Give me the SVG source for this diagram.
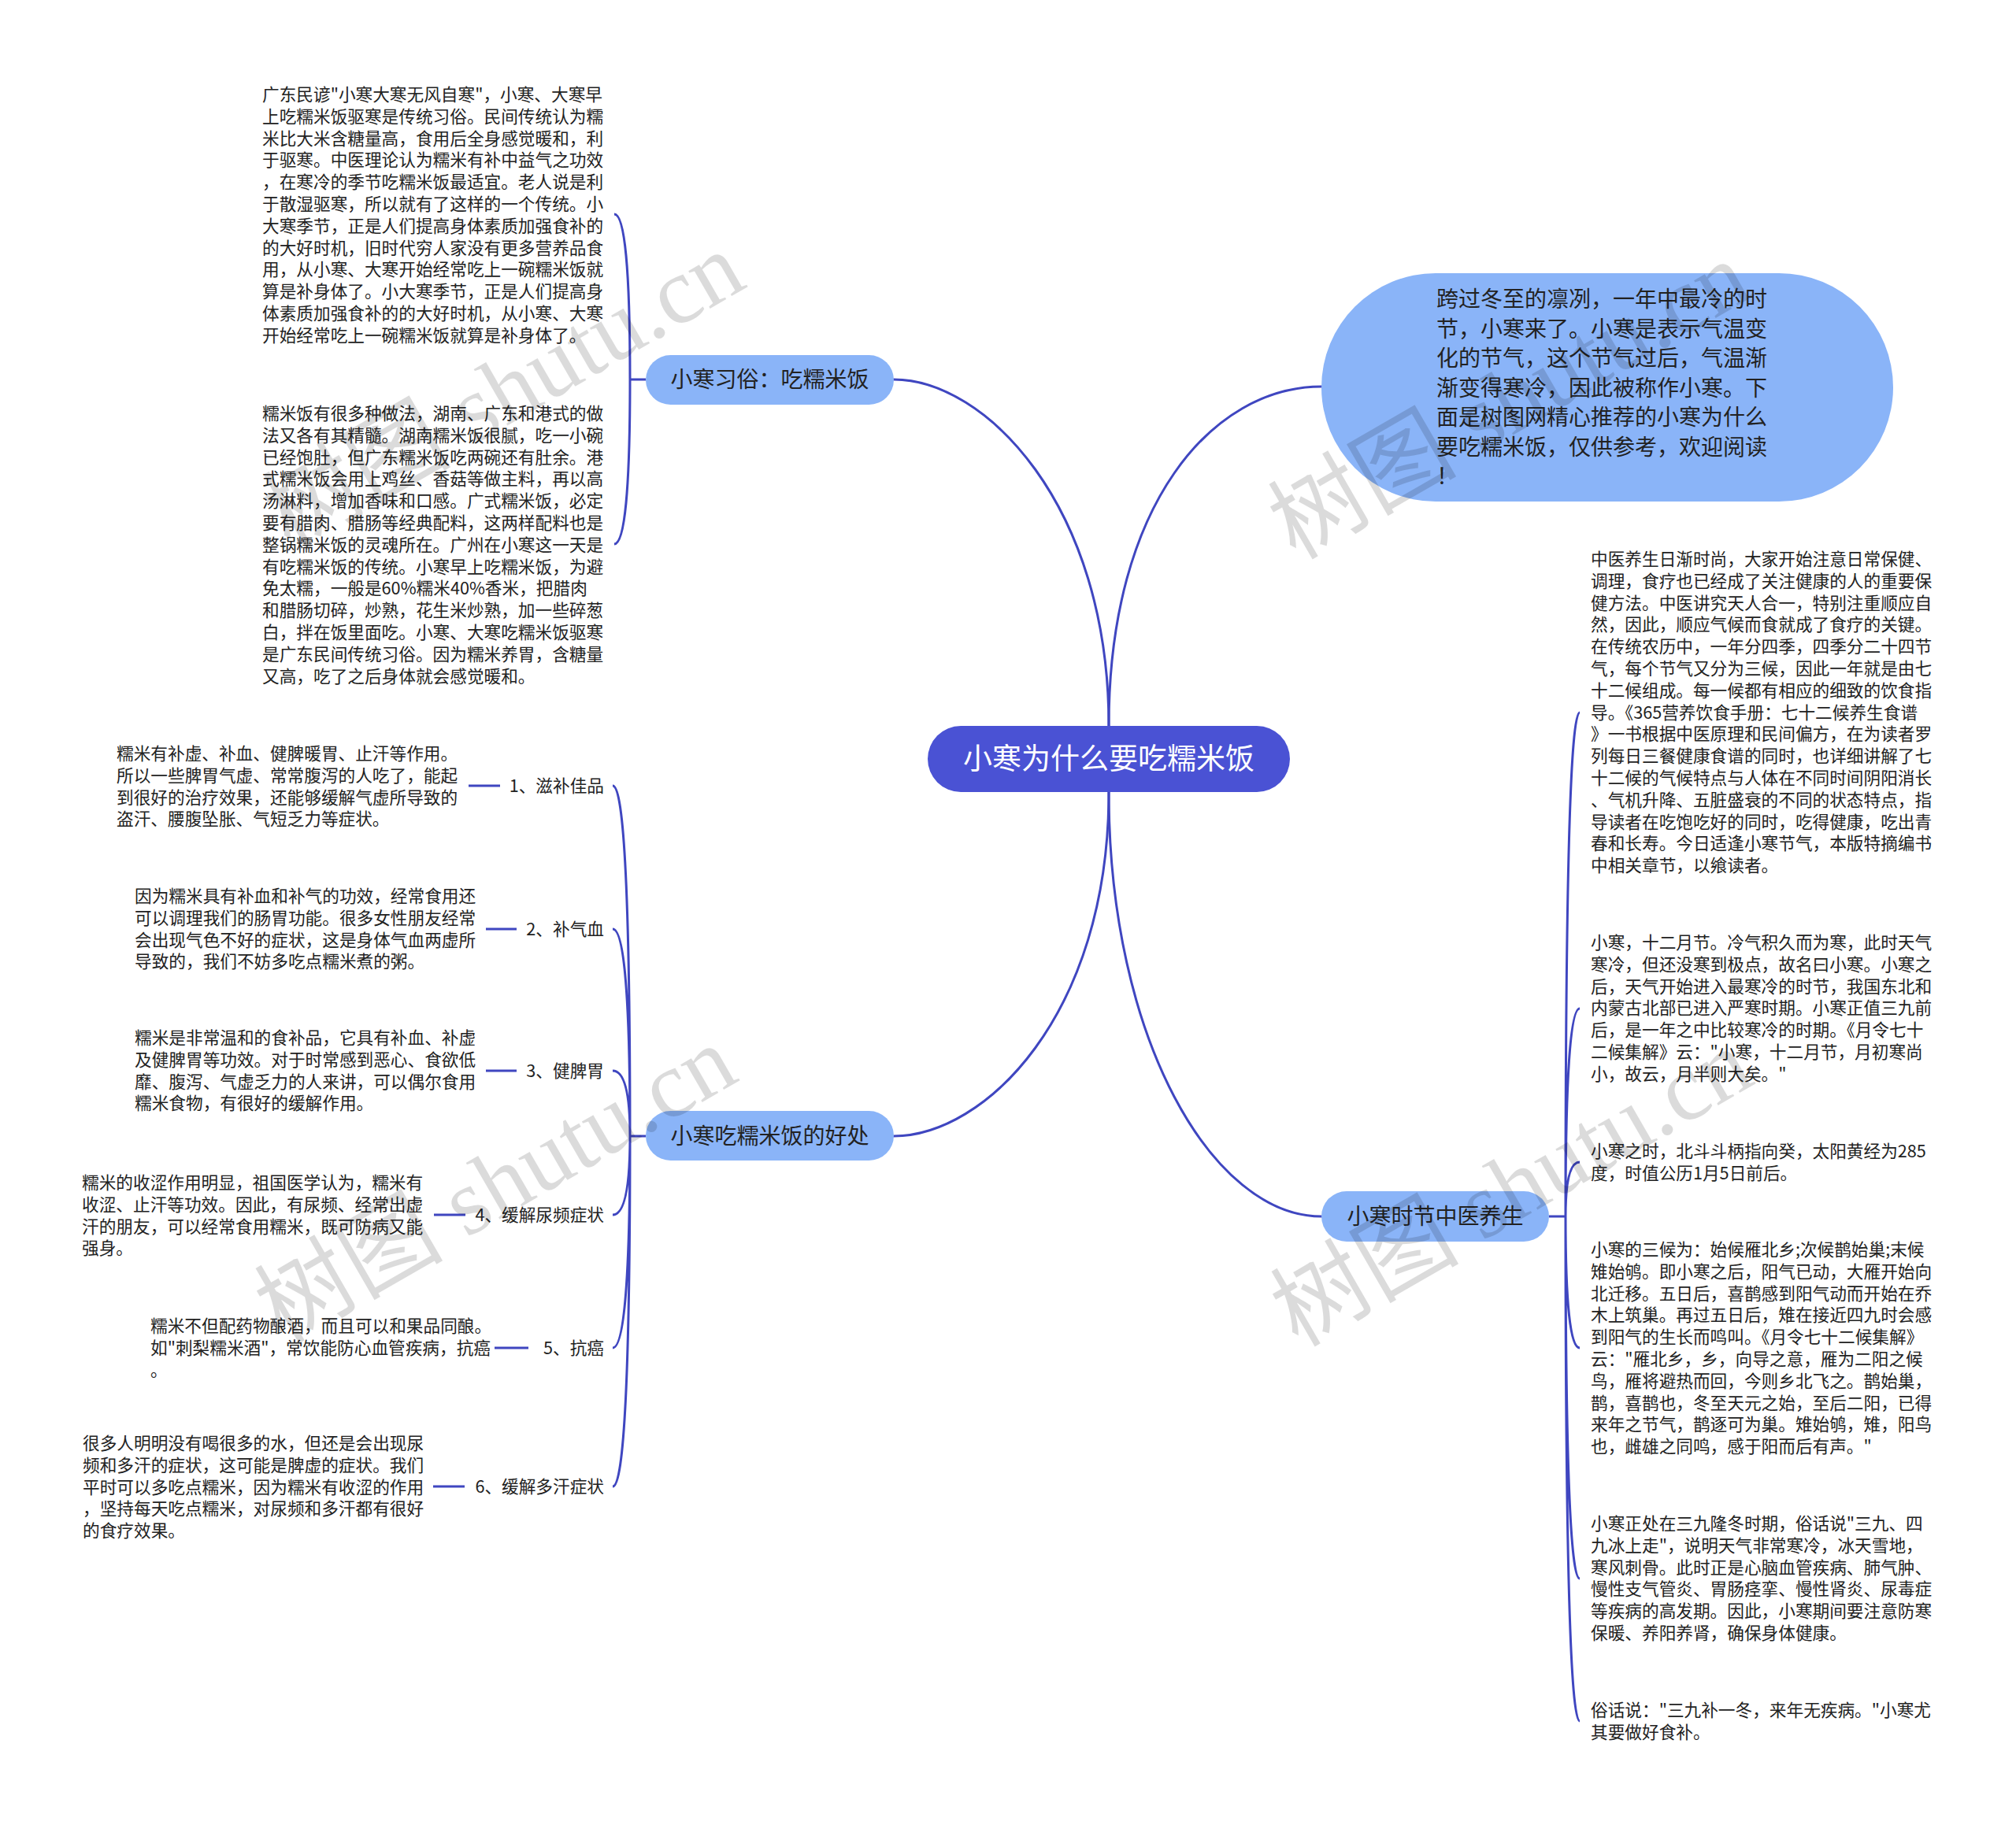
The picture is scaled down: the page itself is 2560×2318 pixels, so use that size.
<svg xmlns="http://www.w3.org/2000/svg" width="2560" height="2318" viewBox="0 0 2560 2318">
<style>
.t{font-family:"Noto Sans CJK SC","Noto Sans",sans-serif;font-size:21.67px;fill:#222}
.b{font-family:"Noto Sans CJK SC","Noto Sans",sans-serif;font-size:28px;fill:#222}
.c{font-family:"Noto Sans CJK SC","Noto Sans",sans-serif;font-size:37px;fill:#fff}
.ln{fill:none;stroke:#3f46c0;stroke-width:3;stroke-linecap:round}
.sl{fill:none;stroke:#3f46c0;stroke-width:3}
.nb{fill:#8ab4f8}
.wm{font-family:"Liberation Serif","Noto Sans CJK SC",serif;font-size:120px;fill:#000;fill-opacity:0.14}
</style>
<rect width="2560" height="2318" fill="#fff"/>
<g id="connectors">
<path class="ln" d="M1408 922 C1408 640 1250 482 1135 482"/>
<path class="ln" d="M1408 922 C1408 640 1540 491 1678 491"/>
<path class="ln" d="M1408 1006 C1408 1290 1250 1443 1135 1443"/>
<path class="ln" d="M1408 1006 C1408 1320 1540 1545 1678 1545"/>
<path class="sl" d="M820 482 H800 M800 482 Q800 272 780 272 M800 482 Q800 691 780 691"/>
<path class="sl" d="M820 1443 H800 M800 1443 Q800 998 778 998 M800 1443 Q800 1180 778 1180 M800 1443 Q800 1360 778 1360 M800 1443 Q800 1543 778 1543 M800 1443 Q800 1712 778 1712 M800 1443 Q800 1888 778 1888"/>
<path class="sl" d="M1967 1545 H1988 M1988 1545 Q1988 905 2006 905 M1988 1545 Q1988 1281 2006 1281 M1988 1545 Q1988 1476 2006 1476 M1988 1545 Q1988 1712 2006 1712 M1988 1545 Q1988 2005 2006 2005 M1988 1545 Q1988 2186 2006 2186"/>
<path class="sl" d="M595 998 H635 M617 1180 H656 M617 1360 H656 M551 1543 H591 M628 1712 H671 M550 1888 H590"/>
</g>
<g id="center">
<rect x="1178" y="922" width="460" height="84" rx="42" fill="#4a52d4"/>
<text class="c" x="1408" y="977" text-anchor="middle">小寒为什么要吃糯米饭</text>
</g>
<g id="intro">
<rect class="nb" x="1678" y="347" width="726" height="290" rx="145"/>
<text class="b"><tspan x="1824" y="390">跨过冬至的凛冽，一年中最冷的时</tspan><tspan x="1824" y="427.5">节，小寒来了。小寒是表示气温变</tspan><tspan x="1824" y="465">化的节气，这个节气过后，气温渐</tspan><tspan x="1824" y="502.5">渐变得寒冷，因此被称作小寒。下</tspan><tspan x="1824" y="540">面是树图网精心推荐的小寒为什么</tspan><tspan x="1824" y="577.5">要吃糯米饭，仅供参考，欢迎阅读</tspan><tspan x="1824" y="615">！</tspan></text>
</g>
<g id="custom">
<rect class="nb" x="820" y="451" width="315" height="63" rx="31.5"/>
<text class="b" x="977.5" y="492" text-anchor="middle">小寒习俗：吃糯米饭</text>
</g>
<g id="custom-1">
<text class="t"><tspan x="333" y="128">广东民谚"小寒大寒无风自寒"，小寒、大寒早</tspan><tspan x="333" y="155.8">上吃糯米饭驱寒是传统习俗。民间传统认为糯</tspan><tspan x="333" y="183.6">米比大米含糖量高，食用后全身感觉暖和，利</tspan><tspan x="333" y="211.4">于驱寒。中医理论认为糯米有补中益气之功效</tspan><tspan x="333" y="239.2">，在寒冷的季节吃糯米饭最适宜。老人说是利</tspan><tspan x="333" y="267">于散湿驱寒，所以就有了这样的一个传统。小</tspan><tspan x="333" y="294.8">大寒季节，正是人们提高身体素质加强食补的</tspan><tspan x="333" y="322.6">的大好时机，旧时代穷人家没有更多营养品食</tspan><tspan x="333" y="350.4">用，从小寒、大寒开始经常吃上一碗糯米饭就</tspan><tspan x="333" y="378.2">算是补身体了。小大寒季节，正是人们提高身</tspan><tspan x="333" y="406">体素质加强食补的的大好时机，从小寒、大寒</tspan><tspan x="333" y="433.8">开始经常吃上一碗糯米饭就算是补身体了。</tspan></text>
</g>
<g id="custom-2">
<text class="t"><tspan x="333" y="533">糯米饭有很多种做法，湖南、广东和港式的做</tspan><tspan x="333" y="560.8">法又各有其精髓。湖南糯米饭很腻，吃一小碗</tspan><tspan x="333" y="588.6">已经饱肚，但广东糯米饭吃两碗还有肚余。港</tspan><tspan x="333" y="616.4">式糯米饭会用上鸡丝、香菇等做主料，再以高</tspan><tspan x="333" y="644.2">汤淋料，增加香味和口感。广式糯米饭，必定</tspan><tspan x="333" y="672">要有腊肉、腊肠等经典配料，这两样配料也是</tspan><tspan x="333" y="699.8">整锅糯米饭的灵魂所在。广州在小寒这一天是</tspan><tspan x="333" y="727.6">有吃糯米饭的传统。小寒早上吃糯米饭，为避</tspan><tspan x="333" y="755.4">免太糯，一般是60%糯米40%香米，把腊肉</tspan><tspan x="333" y="783.2">和腊肠切碎，炒熟，花生米炒熟，加一些碎葱</tspan><tspan x="333" y="811">白，拌在饭里面吃。小寒、大寒吃糯米饭驱寒</tspan><tspan x="333" y="838.8">是广东民间传统习俗。因为糯米养胃，含糖量</tspan><tspan x="333" y="866.6">又高，吃了之后身体就会感觉暖和。</tspan></text>
</g>
<g id="benefit">
<rect class="nb" x="820" y="1411" width="315" height="63" rx="31.5"/>
<text class="b" x="977.5" y="1453" text-anchor="middle">小寒吃糯米饭的好处</text>
</g>
<g id="b1">
<text class="t" x="767" y="1006" text-anchor="end">1、滋补佳品</text>
<text class="t"><tspan x="148" y="965">糯米有补虚、补血、健脾暖胃、止汗等作用。</tspan><tspan x="148" y="992.8">所以一些脾胃气虚、常常腹泻的人吃了，能起</tspan><tspan x="148" y="1020.6">到很好的治疗效果，还能够缓解气虚所导致的</tspan><tspan x="148" y="1048.4">盗汗、腰腹坠胀、气短乏力等症状。</tspan></text>
</g>
<g id="b2">
<text class="t" x="767" y="1188" text-anchor="end">2、补气血</text>
<text class="t"><tspan x="171" y="1146">因为糯米具有补血和补气的功效，经常食用还</tspan><tspan x="171" y="1173.8">可以调理我们的肠胃功能。很多女性朋友经常</tspan><tspan x="171" y="1201.6">会出现气色不好的症状，这是身体气血两虚所</tspan><tspan x="171" y="1229.4">导致的，我们不妨多吃点糯米煮的粥。</tspan></text>
</g>
<g id="b3">
<text class="t" x="767" y="1368" text-anchor="end">3、健脾胃</text>
<text class="t"><tspan x="171" y="1326">糯米是非常温和的食补品，它具有补血、补虚</tspan><tspan x="171" y="1353.8">及健脾胃等功效。对于时常感到恶心、食欲低</tspan><tspan x="171" y="1381.6">靡、腹泻、气虚乏力的人来讲，可以偶尔食用</tspan><tspan x="171" y="1409.4">糯米食物，有很好的缓解作用。</tspan></text>
</g>
<g id="b4">
<text class="t" x="767" y="1551" text-anchor="end">4、缓解尿频症状</text>
<text class="t"><tspan x="104" y="1510">糯米的收涩作用明显，祖国医学认为，糯米有</tspan><tspan x="104" y="1537.8">收涩、止汗等功效。因此，有尿频、经常出虚</tspan><tspan x="104" y="1565.6">汗的朋友，可以经常食用糯米，既可防病又能</tspan><tspan x="104" y="1593.4">强身。</tspan></text>
</g>
<g id="b5">
<text class="t" x="767" y="1720" text-anchor="end">5、抗癌</text>
<text class="t"><tspan x="191" y="1692">糯米不但配药物酿酒，而且可以和果品同酿。</tspan><tspan x="191" y="1719.8">如"刺梨糯米酒"，常饮能防心血管疾病，抗癌</tspan><tspan x="191" y="1747.6">。</tspan></text>
</g>
<g id="b6">
<text class="t" x="767" y="1896" text-anchor="end">6、缓解多汗症状</text>
<text class="t"><tspan x="105" y="1841">很多人明明没有喝很多的水，但还是会出现尿</tspan><tspan x="105" y="1868.8">频和多汗的症状，这可能是脾虚的症状。我们</tspan><tspan x="105" y="1896.6">平时可以多吃点糯米，因为糯米有收涩的作用</tspan><tspan x="105" y="1924.4">，坚持每天吃点糯米，对尿频和多汗都有很好</tspan><tspan x="105" y="1952.2">的食疗效果。</tspan></text>
</g>
<g id="tcm">
<rect class="nb" x="1678" y="1513" width="289" height="64" rx="32"/>
<text class="b" x="1822.5" y="1555" text-anchor="middle">小寒时节中医养生</text>
</g>
<g id="r1">
<text class="t"><tspan x="2020" y="718">中医养生日渐时尚，大家开始注意日常保健、</tspan><tspan x="2020" y="745.8">调理，食疗也已经成了关注健康的人的重要保</tspan><tspan x="2020" y="773.6">健方法。中医讲究天人合一，特别注重顺应自</tspan><tspan x="2020" y="801.4">然，因此，顺应气候而食就成了食疗的关键。</tspan><tspan x="2020" y="829.2">在传统农历中，一年分四季，四季分二十四节</tspan><tspan x="2020" y="857">气，每个节气又分为三候，因此一年就是由七</tspan><tspan x="2020" y="884.8">十二候组成。每一候都有相应的细致的饮食指</tspan><tspan x="2020" y="912.6">导。《365营养饮食手册：七十二候养生食谱</tspan><tspan x="2020" y="940.4">》一书根据中医原理和民间偏方，在为读者罗</tspan><tspan x="2020" y="968.2">列每日三餐健康食谱的同时，也详细讲解了七</tspan><tspan x="2020" y="996">十二候的气候特点与人体在不同时间阴阳消长</tspan><tspan x="2020" y="1023.8">、气机升降、五脏盛衰的不同的状态特点，指</tspan><tspan x="2020" y="1051.6">导读者在吃饱吃好的同时，吃得健康，吃出青</tspan><tspan x="2020" y="1079.4">春和长寿。今日适逢小寒节气，本版特摘编书</tspan><tspan x="2020" y="1107.2">中相关章节，以飨读者。</tspan></text>
</g>
<g id="r2">
<text class="t"><tspan x="2020" y="1205">小寒，十二月节。冷气积久而为寒，此时天气</tspan><tspan x="2020" y="1232.8">寒冷，但还没寒到极点，故名曰小寒。小寒之</tspan><tspan x="2020" y="1260.6">后，天气开始进入最寒冷的时节，我国东北和</tspan><tspan x="2020" y="1288.4">内蒙古北部已进入严寒时期。小寒正值三九前</tspan><tspan x="2020" y="1316.2">后，是一年之中比较寒冷的时期。《月令七十</tspan><tspan x="2020" y="1344">二候集解》云："小寒，十二月节，月初寒尚</tspan><tspan x="2020" y="1371.8">小，故云，月半则大矣。"</tspan></text>
</g>
<g id="r3">
<text class="t"><tspan x="2020" y="1470">小寒之时，北斗斗柄指向癸，太阳黄经为285</tspan><tspan x="2020" y="1497.8">度，时值公历1月5日前后。</tspan></text>
</g>
<g id="r4">
<text class="t"><tspan x="2020" y="1595">小寒的三候为：始候雁北乡;次候鹊始巢;末候</tspan><tspan x="2020" y="1622.8">雉始鸲。即小寒之后，阳气已动，大雁开始向</tspan><tspan x="2020" y="1650.6">北迁移。五日后，喜鹊感到阳气动而开始在乔</tspan><tspan x="2020" y="1678.4">木上筑巢。再过五日后，雉在接近四九时会感</tspan><tspan x="2020" y="1706.2">到阳气的生长而鸣叫。《月令七十二候集解》</tspan><tspan x="2020" y="1734">云："雁北乡，乡，向导之意，雁为二阳之候</tspan><tspan x="2020" y="1761.8">鸟，雁将避热而回，今则乡北飞之。鹊始巢，</tspan><tspan x="2020" y="1789.6">鹊，喜鹊也，冬至天元之始，至后二阳，已得</tspan><tspan x="2020" y="1817.4">来年之节气，鹊逐可为巢。雉始鸲，雉，阳鸟</tspan><tspan x="2020" y="1845.2">也，雌雄之同鸣，感于阳而后有声。"</tspan></text>
</g>
<g id="r5">
<text class="t"><tspan x="2020" y="1943">小寒正处在三九隆冬时期，俗话说"三九、四</tspan><tspan x="2020" y="1970.8">九冰上走"，说明天气非常寒冷，冰天雪地，</tspan><tspan x="2020" y="1998.6">寒风刺骨。此时正是心脑血管疾病、肺气肿、</tspan><tspan x="2020" y="2026.4">慢性支气管炎、胃肠痉挛、慢性肾炎、尿毒症</tspan><tspan x="2020" y="2054.2">等疾病的高发期。因此，小寒期间要注意防寒</tspan><tspan x="2020" y="2082">保暖、养阳养肾，确保身体健康。</tspan></text>
</g>
<g id="r6">
<text class="t"><tspan x="2020" y="2180">俗话说："三九补一冬，来年无疾病。"小寒尤</tspan><tspan x="2020" y="2207.8">其要做好食补。</tspan></text>
</g>
<g id="watermarks">
<text class="wm" transform="translate(368 700) rotate(-30)">树图 shutu.cn</text>
<text class="wm" transform="translate(1645 712) rotate(-30)">树图 shutu.cn</text>
<text class="wm" transform="translate(358 1708) rotate(-30)">树图 shutu.cn</text>
<text class="wm" transform="translate(1648 1712) rotate(-30)">树图 shutu.cn</text>
</g>
</svg>
